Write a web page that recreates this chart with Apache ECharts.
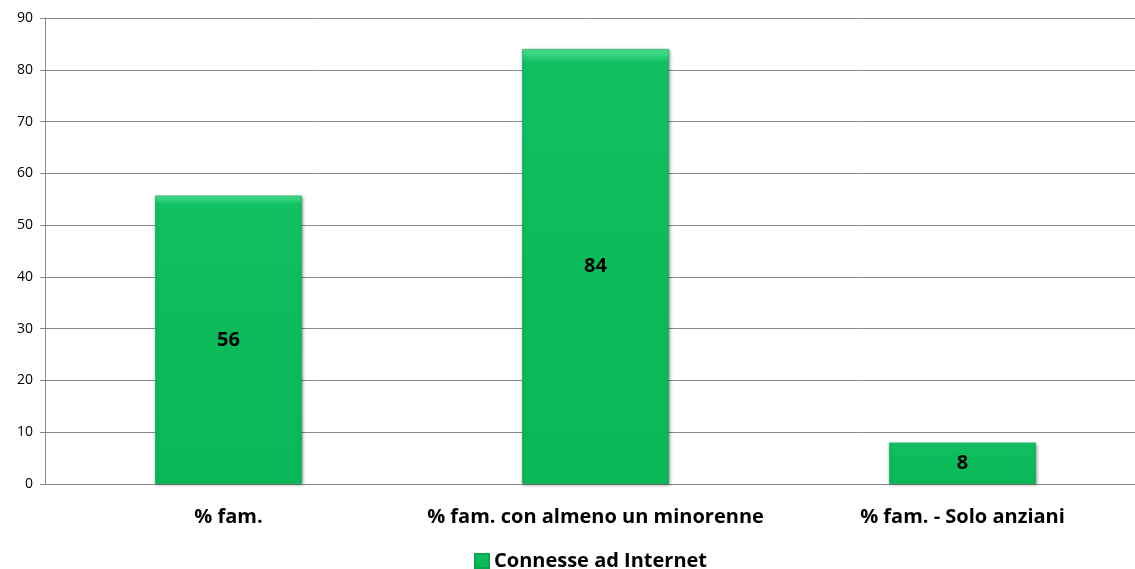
<!DOCTYPE html>
<html lang="it">
<head>
    <meta charset="UTF-8">
    <title>Connesse ad Internet</title>
    <script src="https://cdnjs.cloudflare.com/ajax/libs/echarts/6.0.0/echarts.min.js"></script>
    <style>
        html, body { margin: 0; padding: 0; background: #fff; }
        #main { width: 1135px; height: 569px; }
    </style>
</head>
<body>
    <div id="main"></div>
    <script>
        // dati
        const categorie = ['% fam.', '% fam. con almeno un minorenne', '% fam. - Solo anziani'];
        const connesse = [55.7, 84, 8];
        const nomeSerie = 'Connesse ad Internet';

        const chart = echarts.init(document.getElementById('main'));

        const verde = new echarts.graphic.LinearGradient(0, 0, 0, 1, [
            { offset: 0, color: '#4fe391' },
            { offset: 0.03, color: '#12c063' },
            { offset: 0.5, color: '#0bbb5a' },
            { offset: 1, color: '#0ab858' }
        ]);

        const option = {
            animation: false,
            textStyle: { fontFamily: 'Open Sans, sans-serif' },
            // l'area del grafico esce un poco a destra come nell'originale
            grid: { left: 45, top: 18, width: 1101, height: 466, outerBoundsMode: 'none', containLabel: false },
            legend: {
                data: [nomeSerie],
                top: 546,
                left: 469,
                icon: 'rect',
                itemWidth: 14,
                itemHeight: 14,
                itemGap: 5,
                textStyle: { fontSize: 20, fontWeight: 'bold', color: '#000', fontFamily: 'Open Sans' }
            },
            xAxis: {
                type: 'category',
                data: categorie,
                axisLine: { lineStyle: { color: '#888' } },
                axisTick: { length: 7, lineStyle: { color: '#888' } },
                axisLabel: { interval: 0, hideOverlap: false, margin: 23, fontSize: 20, fontWeight: 'bold', color: '#000', fontFamily: 'Open Sans' }
            },
            yAxis: {
                type: 'value',
                min: 0,
                max: 90,
                interval: 10,
                axisLine: { show: true, lineStyle: { color: '#888' } },
                axisTick: { show: true, length: 5, lineStyle: { color: '#888' } },
                axisLabel: { margin: 12, fontSize: 14, color: '#000', fontFamily: 'Open Sans' },
                splitLine: { lineStyle: { color: '#8a8a8a' } }
            },
            series: [{
                name: nomeSerie,
                type: 'bar',
                data: connesse,
                barWidth: '40%',
                itemStyle: {
                    color: verde,
                    borderColor: '#09a64f',
                    borderWidth: 0.5,
                    shadowColor: 'rgba(0,0,0,0.35)',
                    shadowBlur: 3,
                    shadowOffsetX: 1,
                    shadowOffsetY: 1
                },
                label: {
                    show: true,
                    position: 'inside',
                    formatter: p => Math.round(p.value),
                    fontSize: 20,
                    fontWeight: 'bold',
                    color: '#000',
                    fontFamily: 'Open Sans'
                }
            }]
        };

        chart.setOption(option);
    </script>
</body>
</html>
